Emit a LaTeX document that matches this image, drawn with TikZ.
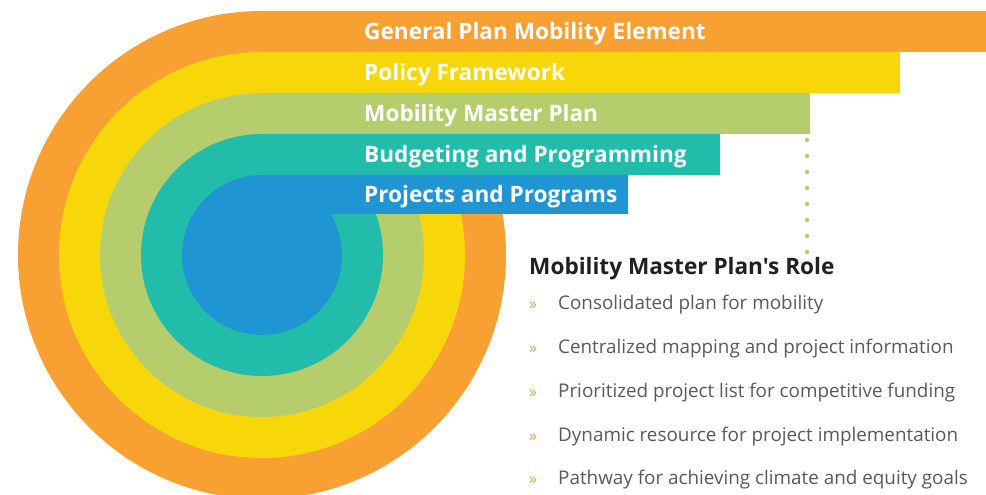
\documentclass[tikz,border=0pt]{standalone}
\usepackage{fontspec}
\setmainfont{Open Sans}[Ligatures=TeXOff]
\usetikzlibrary{positioning}
\definecolor{ringorange}{RGB}{249,160,51}
\definecolor{ringyellow}{RGB}{247,215,10}
\definecolor{ringgreen}{RGB}{182,205,110}
\definecolor{ringteal}{RGB}{34,188,170}
\definecolor{ringblue}{RGB}{31,150,211}
\definecolor{headgray}{RGB}{35,31,32}
\definecolor{itemgray}{RGB}{88,89,91}
\tikzstyle{barlabel} = [anchor=base west, inner sep=0pt, text=white, font=\fontsize{22.6}{26}\selectfont\bfseries]
\tikzstyle{rolehead} = [anchor=base west, inner sep=0pt, text=headgray, font=\fontsize{22.6}{26}\selectfont\bfseries]
\tikzstyle{roleitem} = [anchor=base west, inner sep=0pt, text=itemgray, font=\fontsize{18.85}{22}\selectfont]
\tikzstyle{rolebullet} = [anchor=base west, inner sep=0pt, text=ringorange, font=\fontsize{16}{18}\selectfont]

\begin{document}
\begin{tikzpicture}[x=1pt, y=1pt]
    \tikzset{dotline/.style={ringgreen, line width=4.5pt, line cap=round, dash pattern=on 0pt off 16pt}}
    \useasboundingbox (0,0) rectangle (986,495);

    % rings with their bars, outside in
    \fill [ringorange] (262,240) circle (244) (262,484) rectangle (986,443);
    \fill [ringyellow] (262,240) circle (203) (262,443) rectangle (900,402);
    \fill [ringgreen] (262,240) circle (162) (262,402) rectangle (810,361);
    \fill [ringteal] (262,240) circle (121) (262,361) rectangle (720,320);
    \fill [ringblue] (262,240) circle (80) (262,320) rectangle (628,281);

    \node (gpme) [barlabel] at (364,455) {General Plan Mobility Element};
    \node (pf) [barlabel] at (364,414) {Policy Framework};
    \node (mmp) [barlabel] at (364,373) {Mobility Master Plan};
    \node (bp) [barlabel] at (364,332) {Budgeting and Programming};
    \node (pp) [barlabel] at (364,292) {Projects and Programs};

    \coordinate (dotstart) at (807,355);
    \coordinate (dotend) at (807,242);
    \draw [dotline] (dotstart) -- (dotend);

    \node (role) [rolehead] at (529,220) {Mobility Master Plan's Role};
    \node (item1) [roleitem] at (558,185) {Consolidated plan for mobility};
    \node (item2) [roleitem] at ([yshift=-43.7pt]item1.base west) {Centralized mapping and project information};
    \node (item3) [roleitem] at ([yshift=-43.7pt]item2.base west) {Prioritized project list for competitive funding};
    \node (item4) [roleitem] at ([yshift=-43.7pt]item3.base west) {Dynamic resource for project implementation};
    \node (item5) [roleitem] at ([yshift=-43.7pt]item4.base west) {Pathway for achieving climate and equity goals};

    \node (bul1) [rolebullet] at ([xshift=-29pt]item1.base west) {»};
    \node (bul2) [rolebullet] at ([xshift=-29pt]item2.base west) {»};
    \node (bul3) [rolebullet] at ([xshift=-29pt]item3.base west) {»};
    \node (bul4) [rolebullet] at ([xshift=-29pt]item4.base west) {»};
    \node (bul5) [rolebullet] at ([xshift=-29pt]item5.base west) {»};
\end{tikzpicture}
\end{document}
